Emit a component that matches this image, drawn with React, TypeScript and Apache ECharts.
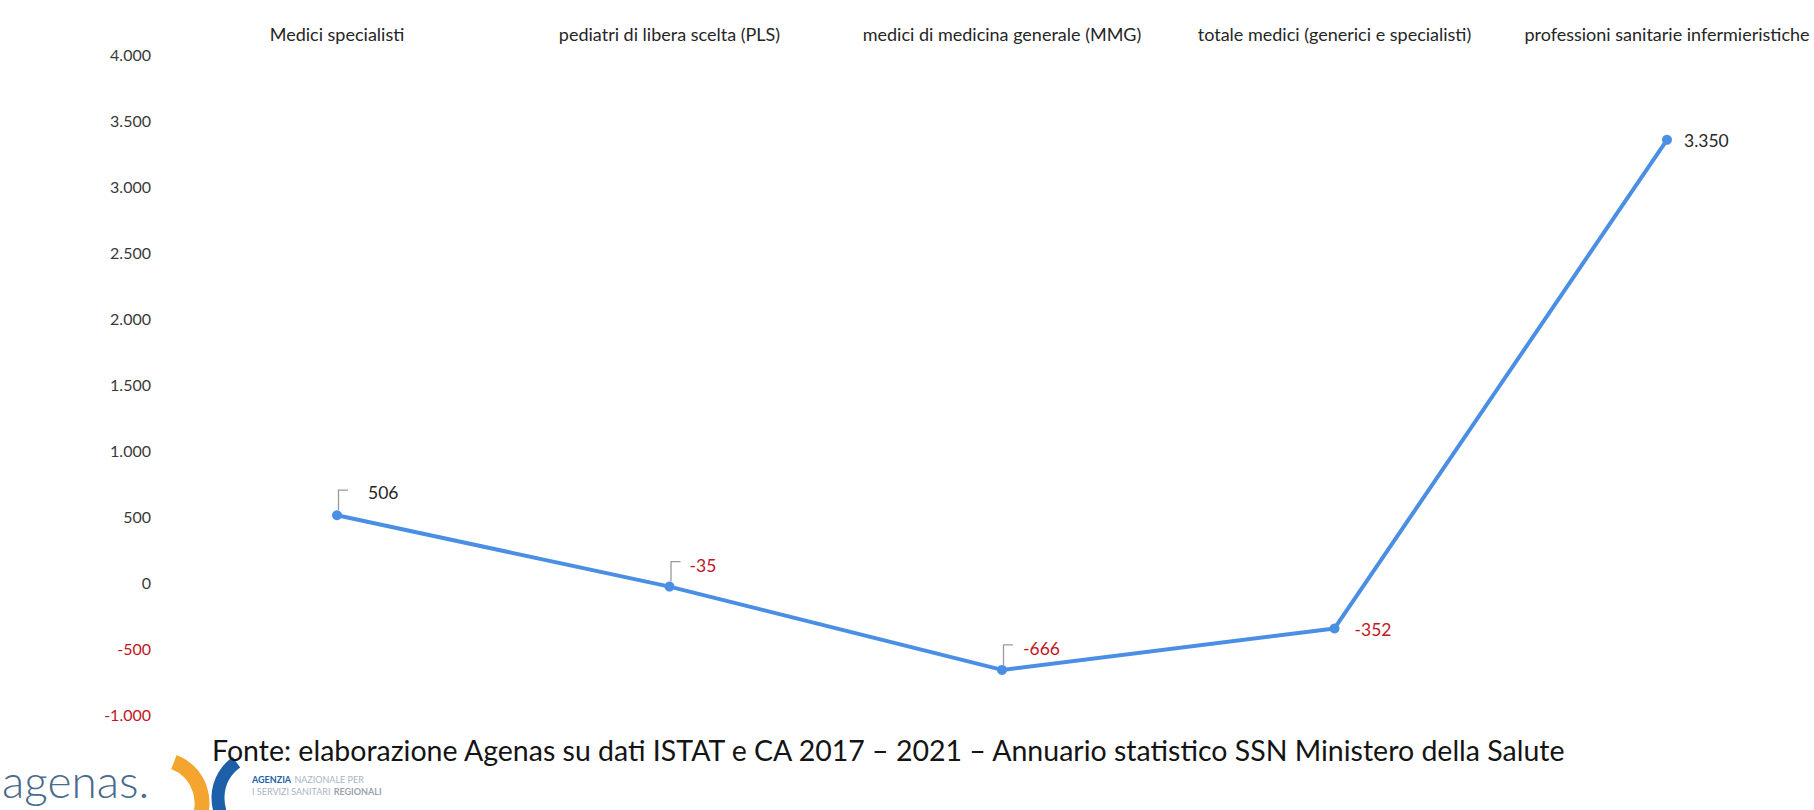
import React, { useEffect, useRef } from "react";
import * as echarts from "echarts";

const categories = [
  "Medici specialisti",
  "pediatri di libera scelta (PLS)",
  "medici di medicina generale (MMG)",
  "totale medici (generici e specialisti)",
  "professioni sanitarie infermieristiche",
];
const values = [506, -35, -666, -352, 3350];
const leaderIdx = [0, 1, 2];
const yTicks = { min: -1000, max: 4000, interval: 500 };
const sourceText =
  "Fonte: elaborazione Agenas su dati ISTAT e CA 2017 – 2021 – Annuario statistico SSN Ministero della Salute";

const FONT = "Lato, 'Open Sans', sans-serif";
const LINE = "#4A8FE3";
const RED = "#C0161E";
const DARK = "#262626";

function fmt(v: number): string {
  const s = Math.abs(v).toString().replace(/\B(?=(\d{3})+(?!\d))/g, ".");
  return (v < 0 ? "-" : "") + s;
}

export default function App() {
  const ref = useRef<HTMLDivElement>(null);
  useEffect(() => {
    if (!ref.current) return;
    const chart = echarts.init(ref.current, undefined, { renderer: "svg" });
    const labelOffsets = [
      [21, -23],
      [10, -21],
      [11, -21],
      [10, 1],
      [7, 1],
    ];
    chart.setOption({
      animation: false,
      backgroundColor: "#ffffff",
      grid: { left: 337, right: 147, top: 54, bottom: 96 },
      xAxis: {
        type: "category",
        position: "top",
        data: categories,
        boundaryGap: false,
        axisLine: { show: false },
        axisTick: { show: false },
        splitLine: { show: false },
        axisLabel: {
          interval: 0,
          margin: 11,
          color: DARK,
          fontFamily: FONT,
          fontSize: 18,
        },
      },
      yAxis: {
        type: "value",
        min: yTicks.min,
        max: yTicks.max,
        interval: yTicks.interval,
        axisLine: { show: false },
        axisTick: { show: false },
        splitLine: { show: false },
        axisLabel: {
          margin: 186,
          fontFamily: FONT,
          fontSize: 16,
          formatter: (v: number) => (v < 0 ? `{neg|${fmt(v)}}` : `{pos|${fmt(v)}}`),
          rich: {
            neg: { color: RED, fontFamily: FONT, fontSize: 16 },
            pos: { color: "#3a3a3a", fontFamily: FONT, fontSize: 16 },
          },
        },
      },
      series: [
        {
          type: "line",
          data: values.map((v, i) => ({
            value: v,
            label: {
              color: v < 0 ? RED : DARK,
              offset: labelOffsets[i],
            },
          })),
          lineStyle: { color: LINE, width: 4 },
          itemStyle: { color: LINE },
          symbol: "circle",
          symbolSize: 10,
          label: {
            show: true,
            position: "right",
            distance: 5,
            fontFamily: FONT,
            fontSize: 17.5,
            formatter: (p: any) => fmt(p.value),
          },
          z: 3,
        },
        {
          type: "custom",
          data: leaderIdx.map((i) => [i, values[i]]),
          silent: true,
          z: 2,
          renderItem: (params: any, api: any) => {
            const pt = api.coord([api.value(0), api.value(1)]);
            return {
              type: "polyline",
              shape: {
                points: [
                  [pt[0] + 1.5, pt[1] - 5],
                  [pt[0] + 1.5, pt[1] - 25],
                  [pt[0] + 11, pt[1] - 25],
                ],
              },
              style: { stroke: "#9a9a9a", lineWidth: 1.3, fill: "none" },
            };
          },
        },
      ],
      graphic: [
        {
          type: "arc",
          shape: { cx: 158, cy: 803, r: 44, startAngle: -1.2, endAngle: 0.55 },
          style: { stroke: "#F3A530", lineWidth: 15, fill: "none" },
        },
        {
          type: "arc",
          shape: { cx: 262, cy: 798, r: 44, startAngle: Math.PI - 0.85, endAngle: Math.PI + 0.95 },
          style: { stroke: "#1E5FAA", lineWidth: 13, fill: "none" },
        },
        {
          type: "text",
          left: 212,
          top: 735,
          style: {
            text: sourceText,
            font: `28.5px ${FONT}`,
            fill: "#141414",
          },
        },
        {
          type: "text",
          left: 2,
          top: 757,
          style: {
            text: "agenas.",
            font: `300 46px ${FONT}`,
            fill: "#4a6a8e",
          },
        },
        {
          type: "text",
          left: 252,
          top: 773,
          style: {
            text: "{b|AGENZIA} {l|NAZIONALE PER}\n{l|I SERVIZI SANITARI} {g|REGIONALI}",
            rich: {
              b: { font: `bold 9px ${FONT}`, fill: "#1E5FAA", lineHeight: 11 },
              l: { font: `9px ${FONT}`, fill: "#a8b4c6", lineHeight: 11 },
              g: { font: `bold 9px ${FONT}`, fill: "#9aa3ad", lineHeight: 11 },
            },
          },
        },
      ],
    });
    return () => chart.dispose();
  }, []);
  return (
    <div
      ref={ref}
      style={{ position: "fixed", left: 0, top: 0, width: 1814, height: 810, background: "#fff" }}
    />
  );
}
